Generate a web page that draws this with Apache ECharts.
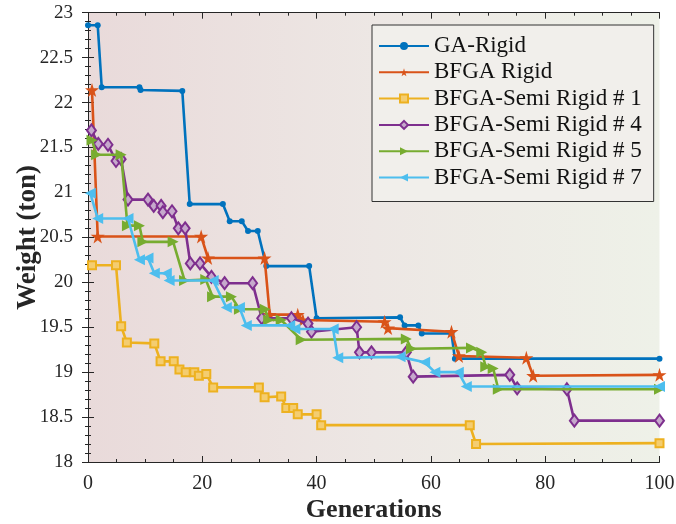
<!DOCTYPE html>
<html>
<head>
<meta charset="utf-8">
<script src="https://cdn.jsdelivr.net/npm/echarts@6/dist/echarts.min.js"></script>
<style>html,body{margin:0;padding:0;background:#fff;}#c{width:676px;height:524px;}</style>
</head>
<body>
<div id="c"></div>
<script>
// ---- data ----
const seriesNames = ['GA-Rigid', 'BFGA Rigid', 'BFGA-Semi Rigid # 1', 'BFGA-Semi Rigid # 4', 'BFGA-Semi Rigid # 5', 'BFGA-Semi Rigid # 7'];
const xTicks = [0, 20, 40, 60, 80, 100];
const yTicks = [18, 18.5, 19, 19.5, 20, 20.5, 21, 21.5, 22, 22.5, 23];

const gaX = [0, 1.7, 2.4, 9.0, 9.2, 16.5, 17.8, 23.6, 24.8, 26.9, 28.0, 29.7, 31.2, 38.7, 40.0, 54.6, 55.4, 57.8, 58.4, 63.6, 64.2, 100];
const gaY = [22.86, 22.86, 22.17, 22.17, 22.14, 22.13, 20.87, 20.87, 20.68, 20.68, 20.57, 20.57, 20.18, 20.18, 19.6, 19.61, 19.52, 19.52, 19.43, 19.43, 19.15, 19.15];

const bfX = [0.7, 1.7, 19.8, 21.0, 30.9, 31.8, 36.7, 37.6, 51.9, 52.5, 63.6, 64.9, 76.7, 77.9, 100];
const bfY = [22.14, 20.51, 20.51, 20.27, 20.27, 19.64, 19.64, 19.58, 19.56, 19.49, 19.45, 19.18, 19.16, 18.96, 18.97];

const s1X = [0.7, 4.9, 5.8, 6.8, 11.6, 12.7, 15.0, 16.0, 17.1, 18.6, 19.4, 20.7, 21.9, 29.9, 30.9, 33.8, 34.7, 35.9, 36.7, 40.0, 40.8, 66.8, 67.9, 100];
const s1Y = [20.19, 20.19, 19.51, 19.33, 19.32, 19.12, 19.12, 19.03, 19.0, 19.0, 18.96, 18.98, 18.83, 18.83, 18.72, 18.73, 18.6, 18.6, 18.53, 18.53, 18.41, 18.41, 18.2, 18.21];

const s4X = [0.6, 1.8, 3.5, 4.9, 5.8, 7.0, 10.5, 11.5, 12.8, 13.1, 14.7, 15.8, 17.0, 17.9, 19.6, 21.6, 23.9, 28.8, 30.4, 35.6, 38.5, 39.1, 47.0, 47.5, 49.6, 55.7, 56.9, 73.8, 75.1, 83.8, 85.1, 100];
const s4Y = [21.69, 21.54, 21.53, 21.35, 21.37, 20.92, 20.92, 20.85, 20.85, 20.78, 20.79, 20.6, 20.6, 20.21, 20.21, 20.06, 19.99, 19.99, 19.6, 19.6, 19.54, 19.45, 19.5, 19.22, 19.22, 19.22, 18.95, 18.97, 18.82, 18.81, 18.46, 18.46];

const s5X = [0.7, 1.5, 5.8, 6.9, 9.0, 9.6, 14.9, 16.9, 20.6, 21.8, 25.1, 26.5, 31.0, 31.6, 33.8, 37.3, 55.7, 56.6, 67.1, 68.9, 69.6, 70.9, 71.8, 100];
const s5Y = [21.58, 21.42, 21.42, 20.63, 20.63, 20.45, 20.45, 20.02, 20.03, 19.84, 19.84, 19.7, 19.7, 19.58, 19.58, 19.36, 19.37, 19.26, 19.27, 19.22, 19.06, 19.04, 18.81, 18.81];

const s7X = [0.4, 1.7, 7.0, 9.0, 10.5, 11.6, 13.7, 14.2, 21.9, 24.2, 26.5, 27.7, 35.3, 36.2, 42.9, 43.7, 54.6, 58.9, 60.7, 64.8, 66.2, 100];
const s7Y = [20.99, 20.71, 20.71, 20.25, 20.27, 20.1, 20.1, 20.02, 20.02, 19.72, 19.72, 19.52, 19.52, 19.48, 19.48, 19.16, 19.17, 19.11, 19.0, 19.0, 18.84, 18.84];

// ---- build ----
const zip = (xs, ys) => xs.map((x, i) => [x, ys[i]]);
const FONT = 'Liberation Serif';
const AX = '#262626';
const star = 'path://M50,0 L61,35 L98,35 L68,57 L79,91 L50,70 L21,91 L32,57 L2,35 L39,35 Z';

const defs = [
  {x: gaX, y: gaY, color: '#0072BD', symbol: 'circle', size: 6, fill: '#0072BD'},
  {x: bfX, y: bfY, color: '#D95319', symbol: star, size: 14, fill: '#D95319'},
  {x: s1X, y: s1Y, color: '#EDB120', symbol: 'rect', size: 8, fill: '#f4cd70'},
  {x: s4X, y: s4Y, color: '#7E2F8E', symbol: 'diamond', size: [9, 12], fill: '#c6a9cc'},
  {x: s5X, y: s5Y, color: '#77AC30', symbol: 'triangle', size: 11, fill: '#77AC30', rot: -90},
  {x: s7X, y: s7Y, color: '#4DBEEE', symbol: 'triangle', size: 11, fill: '#4DBEEE', rot: 90}
];

const series = defs.map((d, i) => ({
  name: seriesNames[i],
  type: 'line',
  xAxisIndex: 0, yAxisIndex: 0,
  data: zip(d.x, d.y),
  symbol: d.symbol,
  symbolSize: d.size,
  symbolRotate: d.rot || 0,
  showAllSymbol: true,
  lineStyle: {color: d.color, width: 2.6},
  itemStyle: {color: d.fill, borderColor: d.color, borderWidth: (i === 2 || i === 3) ? 2 : 0},
  emphasis: {disabled: true},
  animation: false,
  z: 2 + i
}));

const tickStyle = {
  axisLine: {show: true, lineStyle: {color: AX, width: 1}},
  axisTick: {show: true, inside: true, length: 6, lineStyle: {color: AX}},
  splitLine: {show: false}
};

const chart = echarts.init(document.getElementById('c'), null, {renderer: 'canvas'});
chart.setOption({
  animation: false,
  backgroundColor: '#ffffff',
  grid: {
    left: 88, right: 16.5, top: 12.7, bottom: 62,
    outerBoundsMode: 'none',
    containLabel: false,
    show: true, borderWidth: 0,
    backgroundColor: new echarts.graphic.LinearGradient(0, 0, 1, 0, [
      {offset: 0, color: '#e9dada'},
      {offset: 0.5, color: '#ede7e4'},
      {offset: 1, color: '#eef1e8'}
    ])
  },
  legend: {
    orient: 'vertical',
    left: 372, top: 25,
    padding: [9, 12, 12, 6],
    itemGap: 2.3,
    itemWidth: 50, itemHeight: 10,
    borderColor: '#333', borderWidth: 1,
    backgroundColor: '#f1efeb',
    textStyle: {fontFamily: FONT, fontSize: 23, color: '#111', lineHeight: 24},
    data: seriesNames
  },
  xAxis: [
    Object.assign({
      type: 'value', position: 'bottom', min: 0, max: 100, interval: 20,
      minorTick: {show: true, splitNumber: 4, length: 3, lineStyle: {color: AX}},
      axisLabel: {fontFamily: FONT, fontSize: 20, color: AX, margin: 12,
        formatter: v => xTicks.includes(v) ? String(v) : ''},
      name: 'Generations', nameLocation: 'middle', nameGap: 35,
      nameMoveOverlap: false,
      nameTextStyle: {fontFamily: FONT, fontSize: 26, fontWeight: 'bold', color: AX}
    }, tickStyle),
    Object.assign({
      type: 'value', position: 'top', min: 0, max: 100, interval: 20,
      minorTick: {show: true, splitNumber: 4, length: 3, lineStyle: {color: AX}},
      axisLabel: {show: false}
    }, tickStyle)
  ],
  yAxis: [
    Object.assign({
      type: 'value', position: 'left', min: 18, max: 23, interval: 0.5,
      minorTick: {show: true, splitNumber: 5, length: 3, lineStyle: {color: AX}},
      axisLabel: {fontFamily: FONT, fontSize: 19, color: AX, margin: 15,
        formatter: v => yTicks.includes(v) ? String(v) : ''},
      name: 'Weight (ton)', nameLocation: 'middle', nameGap: 46,
      nameMoveOverlap: false,
      nameTextStyle: {fontFamily: FONT, fontSize: 27, fontWeight: 'bold', color: AX}
    }, tickStyle),
    Object.assign({
      type: 'value', position: 'right', min: 18, max: 23, interval: 0.5,
      minorTick: {show: true, splitNumber: 5, length: 3, lineStyle: {color: AX}},
      axisLabel: {show: false}
    }, tickStyle)
  ],
  series: series
});
</script>
</body>
</html>
